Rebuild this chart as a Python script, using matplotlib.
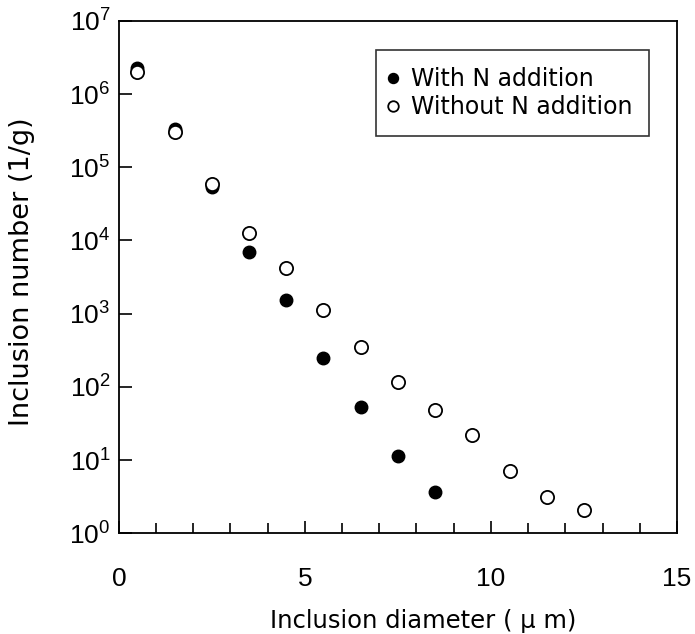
import matplotlib
matplotlib.use("Agg")
import matplotlib.pyplot as plt
from matplotlib.ticker import FixedLocator, MultipleLocator, LogFormatterMathtext, NullLocator

# Data
diam_with = [0.5, 1.5, 2.5, 3.5, 4.5, 5.5, 6.5, 7.5, 8.5]
num_with = [2.3e6, 3.3e5, 5.3e4, 6.9e3, 1.55e3, 245, 53, 11.3, 3.6]
diam_without = [0.5, 1.5, 2.5, 3.5, 4.5, 5.5, 6.5, 7.5, 8.5, 9.5, 10.5, 11.5, 12.5]
num_without = [2.0e6, 3.0e5, 6.0e4, 1.28e4, 4.2e3, 1.12e3, 355, 117, 48, 22, 7.1, 3.1, 2.06]
label_with = "With N addition"
label_without = "Without N addition"
xlabel = "Inclusion diameter ( \u03bc m)"
ylabel = "Inclusion number (1/g)"

plt.rcParams['font.family'] = ['Liberation Sans', 'DejaVu Sans']
plt.rcParams['mathtext.fontset'] = 'custom'
plt.rcParams['mathtext.rm'] = 'Liberation Sans'

fig = plt.figure(figsize=(6.95, 6.34), dpi=100)
ax = fig.add_axes([0.171, 0.159, 0.803, 0.808])

ax.plot(diam_with, num_with, 'o', ms=9, mfc='black', mec='black', mew=1.0,
        ls='none', label=label_with, zorder=3)
ax.plot(diam_without, num_without, 'o', ms=9.5, mfc='white', mec='black', mew=1.3,
        ls='none', label=label_without, zorder=4)

ax.set_yscale('log')
ax.set_xlim(0, 15)
ax.set_ylim(1, 1e7)

ax.yaxis.set_major_locator(FixedLocator([10.0**k for k in range(8)]))
ax.yaxis.set_major_formatter(LogFormatterMathtext())
ax.yaxis.set_minor_locator(NullLocator())
ax.xaxis.set_major_locator(MultipleLocator(5))
ax.xaxis.set_minor_locator(MultipleLocator(1))

ax.tick_params(axis='both', which='major', direction='in', length=9, width=1.2,
               labelsize=19, top=False, right=False)
ax.tick_params(axis='x', which='major', pad=24)
ax.tick_params(axis='y', which='major', pad=6)
ax.tick_params(axis='x', which='minor', direction='in', length=7, width=1.2,
               top=False)

for s in ax.spines.values():
    s.set_linewidth(1.3)

ax.set_xlabel(xlabel, family=['DejaVu Sans'], fontsize=17.5)
ax.xaxis.set_label_coords(0.545, -0.148)
ax.set_ylabel(ylabel, family=['DejaVu Sans'], fontsize=19.5)
ax.yaxis.set_label_coords(-0.150, 0.51)

leg = ax.legend(loc='upper right', bbox_to_anchor=(0.950, 0.943),
                prop={'family': 'DejaVu Sans', 'size': 17},
                frameon=True, fancybox=False, edgecolor='black', markerscale=0.8,
                handletextpad=0.75, handlelength=0.0, borderpad=0.72,
                labelspacing=0.18, borderaxespad=0)
leg.get_frame().set_linewidth(1.2)

fig.savefig("out.png", dpi=100)
